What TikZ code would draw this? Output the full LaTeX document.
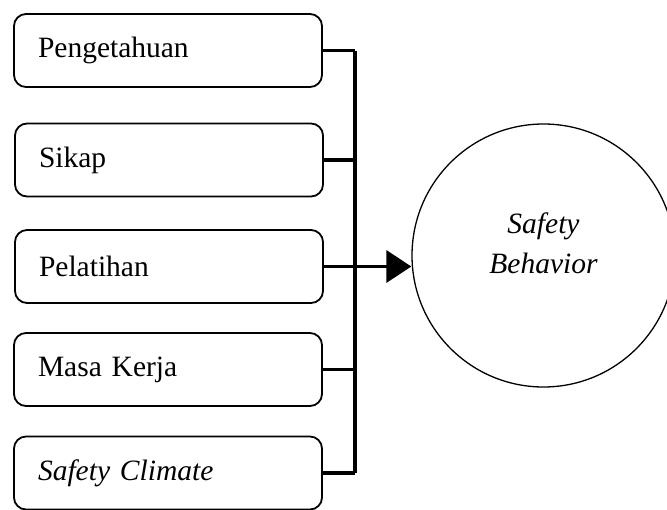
\documentclass[tikz,border=0pt]{standalone}
\usepackage{fontspec}
\setmainfont{Liberation Serif}
\usetikzlibrary{positioning,
        shapes,
        arrows.meta}

\begin{document}
\begin{tikzpicture}[x=1pt,y=1pt,
        factor/.style={rectangle,rounded corners=12pt,draw,line width=1.8pt,
            minimum height=73pt,text width=260pt,inner xsep=24pt,align=left,
            font=\fontsize{29.5}{34}\selectfont},
        outcome/.style={circle,draw,line width=1.3pt,minimum size=263pt,inner sep=0pt},
        link/.style={line width=3.6pt}]
            \useasboundingbox (0,0) rectangle (667,-509);
            \node [factor] (peng) at (168,-50.5) {Pengetahuan};
            \node [factor] (sikap) at (169,-160) {Sikap};
            \node [factor] (lat) at (169,-266.5) {Pelatihan};
            \node [factor] (masa) at (168,-369.5) {Masa Kerja};
            \node [factor] (climate) at (168,-473) {\itshape Safety Climate};
            \node [outcome] (sb) at (543.5,-255.5) {};
            \node [align=center,font=\fontsize{29.5}{40}\selectfont\itshape] (sbtext)
                at ([yshift=12pt]sb.center) {Safety\\Behavior};

            \coordinate (jtop) at (355,-50.5);
            \coordinate (jbot) at (355,-473);
            \draw [line width=4.5pt] (jtop) -- (jbot);
            \draw [link] (peng.east) -- (peng.east -| jtop);
            \draw [link] (sikap.east) -- (sikap.east -| jtop);
            \draw [link] (masa.east) -- (masa.east -| jtop);
            \draw [link] (climate.east) -- (climate.east -| jtop);
            \draw [link,-{Triangle[length=25pt,width=32pt]}] (lat.east) -- (lat.east -| sb.west);
        \end{tikzpicture}
\end{document}
